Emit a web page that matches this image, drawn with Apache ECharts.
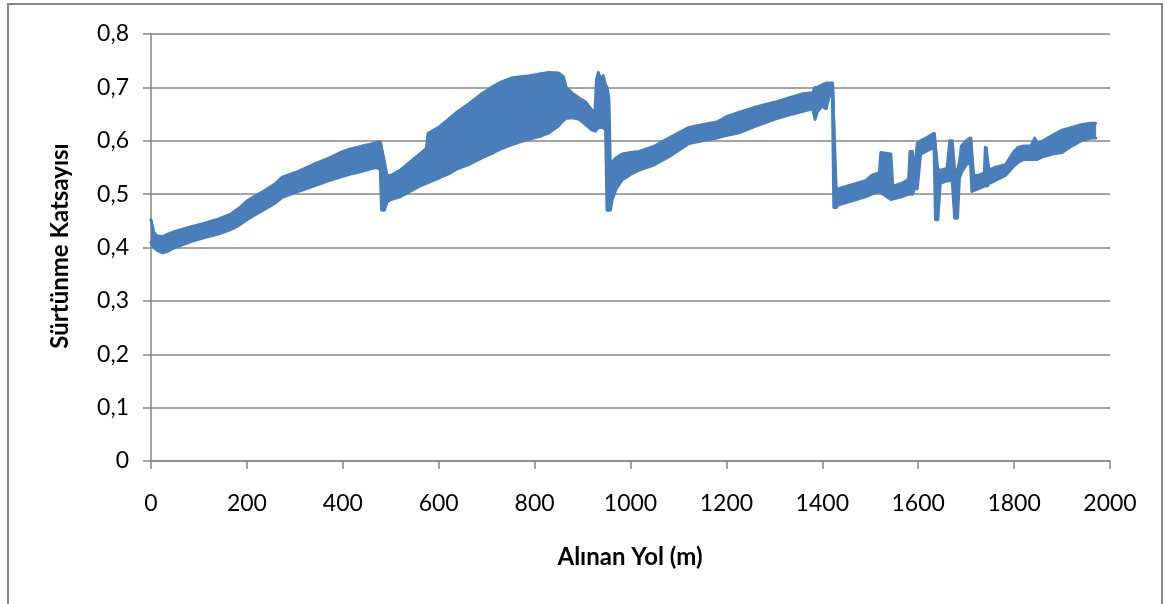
<!DOCTYPE html>
<html>
<head>
<meta charset="utf-8">
<script src="https://cdn.jsdelivr.net/npm/echarts@6/dist/echarts.min.js"></script>
<style>
  html, body { margin: 0; padding: 0; background: #ffffff; }
  #chart { width: 1167px; height: 604px; }
</style>
</head>
<body>
<div id="chart"></div>
<script>
// Friction coefficient recorded along the sliding distance.
// The trace is very noisy, so it is stored as its lower and upper extent.
const dist = [0, 2, 6, 12, 24, 35, 50, 80, 110, 140, 165, 184, 200, 220, 240, 260, 274, 300, 320, 345, 370, 395, 414, 440, 460, 470, 478, 481, 487, 492, 500, 520, 540, 560, 574, 578, 600, 620, 640, 664, 690, 710, 730, 750, 770, 790, 810, 830, 850, 860, 866, 880, 893, 907, 920, 926, 929, 933, 938, 943, 948, 951, 955, 958, 962, 970, 983, 1000, 1018, 1050, 1080, 1122, 1150, 1180, 1200, 1226, 1260, 1300, 1330, 1360, 1380, 1385, 1390, 1400, 1408, 1415, 1421, 1424, 1429, 1434, 1460, 1490, 1503, 1519, 1522, 1543, 1547, 1565, 1580, 1583, 1588, 1592, 1598, 1605, 1620, 1633, 1636, 1641, 1646, 1660, 1666, 1671, 1676, 1682, 1686, 1690, 1700, 1709, 1712, 1716, 1725, 1738, 1740, 1744, 1748, 1760, 1782, 1800, 1809, 1820, 1835, 1843, 1848, 1860, 1880, 1900, 1920, 1940, 1960, 1970];
const lower = [0.41, 0.405, 0.40, 0.395, 0.39, 0.393, 0.40, 0.41, 0.418, 0.425, 0.433, 0.442, 0.452, 0.463, 0.473, 0.484, 0.494, 0.503, 0.509, 0.517, 0.525, 0.532, 0.537, 0.543, 0.548, 0.55, 0.546, 0.47, 0.47, 0.485, 0.49, 0.495, 0.505, 0.515, 0.52, 0.52, 0.53, 0.538, 0.548, 0.556, 0.568, 0.576, 0.585, 0.592, 0.598, 0.603, 0.608, 0.615, 0.628, 0.638, 0.642, 0.643, 0.64, 0.63, 0.62, 0.618, 0.618, 0.625, 0.625, 0.625, 0.62, 0.47, 0.47, 0.47, 0.49, 0.51, 0.527, 0.537, 0.545, 0.555, 0.57, 0.595, 0.60, 0.605, 0.61, 0.615, 0.627, 0.64, 0.648, 0.655, 0.66, 0.64, 0.655, 0.665, 0.66, 0.685, 0.685, 0.475, 0.475, 0.48, 0.487, 0.495, 0.50, 0.505, 0.505, 0.49, 0.49, 0.495, 0.50, 0.50, 0.50, 0.51, 0.51, 0.575, 0.582, 0.588, 0.452, 0.452, 0.52, 0.525, 0.525, 0.525, 0.455, 0.455, 0.53, 0.54, 0.555, 0.56, 0.505, 0.505, 0.51, 0.515, 0.515, 0.515, 0.52, 0.525, 0.535, 0.553, 0.56, 0.565, 0.565, 0.565, 0.565, 0.57, 0.575, 0.578, 0.59, 0.60, 0.605, 0.605];
const upper = [0.452, 0.45, 0.428, 0.422, 0.42, 0.425, 0.43, 0.438, 0.445, 0.453, 0.462, 0.474, 0.487, 0.498, 0.508, 0.52, 0.532, 0.54, 0.548, 0.558, 0.567, 0.578, 0.584, 0.59, 0.594, 0.597, 0.598, 0.597, 0.56, 0.535, 0.535, 0.545, 0.56, 0.575, 0.585, 0.614, 0.625, 0.64, 0.655, 0.67, 0.688, 0.70, 0.71, 0.717, 0.72, 0.722, 0.725, 0.728, 0.727, 0.72, 0.70, 0.688, 0.68, 0.672, 0.657, 0.655, 0.715, 0.728, 0.715, 0.722, 0.705, 0.70, 0.68, 0.55, 0.56, 0.568, 0.575, 0.578, 0.58, 0.59, 0.605, 0.625, 0.63, 0.635, 0.645, 0.653, 0.663, 0.672, 0.68, 0.688, 0.69, 0.70, 0.70, 0.705, 0.708, 0.708, 0.708, 0.705, 0.51, 0.51, 0.517, 0.525, 0.535, 0.54, 0.578, 0.575, 0.515, 0.52, 0.528, 0.58, 0.58, 0.535, 0.595, 0.60, 0.607, 0.614, 0.614, 0.545, 0.545, 0.548, 0.60, 0.60, 0.545, 0.545, 0.56, 0.59, 0.60, 0.605, 0.605, 0.535, 0.535, 0.54, 0.588, 0.588, 0.545, 0.55, 0.555, 0.58, 0.588, 0.59, 0.59, 0.605, 0.595, 0.60, 0.61, 0.62, 0.625, 0.63, 0.633, 0.633];

const xTicks = { min: 0, max: 2000, step: 200 };
const yTicks = { min: 0, max: 0.8, step: 0.1 };

const xTitle = 'Alınan Yol (m)';
const yTitle = 'Sürtünme Katsayısı';

const BLUE = '#4a7ebb';
const AXIS_GRAY = '#868686';
const FONT = 'Lato, "Open Sans", sans-serif';

const lowData = dist.map((d, i) => [d, lower[i]]);
const highData = dist.map((d, i) => [d, upper[i]]);
const bandData = dist.map((d, i) => [d, lower[i], upper[i]]);

// Fills the region between the lower and upper extent as one polygon.
function renderBand(params, api) {
  if (params.dataIndex !== 0) return null;
  const top = dist.map((d, i) => api.coord([d, upper[i]]));
  const bottom = dist.map((d, i) => api.coord([d, lower[i]])).reverse();
  return {
    type: 'polygon',
    shape: { points: top.concat(bottom) },
    style: { fill: BLUE, stroke: BLUE, lineWidth: 1 }
  };
}

const chart = echarts.init(document.getElementById('chart'), null, { renderer: 'canvas' });

const edgeLine = (name, data) => ({
  name,
  type: 'line',
  data,
  symbol: 'none',
  smooth: false,
  lineStyle: { color: BLUE, width: 3, join: 'round', cap: 'round' },
  z: 4
});

chart.setOption({
  animation: false,
  backgroundColor: '#ffffff',
  grid: { left: 151, right: 57, top: 34, bottom: 143, containLabel: false },
  xAxis: {
    type: 'value',
    min: xTicks.min, max: xTicks.max, interval: xTicks.step,
    axisLine: { show: true, onZero: false, lineStyle: { color: AXIS_GRAY, width: 1.5 } },
    axisTick: { show: true, inside: false, length: 8, lineStyle: { color: AXIS_GRAY, width: 1.5 } },
    splitLine: { show: false },
    axisLabel: {
      margin: 31, color: '#000000', fontFamily: FONT, fontSize: 23,
      formatter: v => String(v)
    }
  },
  yAxis: {
    type: 'value',
    min: yTicks.min, max: yTicks.max, interval: yTicks.step,
    axisLine: { show: true, lineStyle: { color: AXIS_GRAY, width: 1.5 } },
    axisTick: { show: true, inside: false, length: 8, lineStyle: { color: AXIS_GRAY, width: 1.5 } },
    splitLine: { show: true, lineStyle: { color: AXIS_GRAY, width: 1.5 } },
    axisLabel: {
      margin: 22, color: '#000000', fontFamily: FONT, fontSize: 23,
      formatter: v => (v === 0 ? '0' : v.toFixed(1).replace('.', ','))
    }
  },
  graphic: [
    {
      type: 'rect', silent: true, z: -1,
      shape: { x: 8, y: 4, width: 1154, height: 640 },
      style: { fill: 'none', stroke: AXIS_GRAY, lineWidth: 2 }
    },
    {
      type: 'text', x: 630, y: 557,
      style: { text: xTitle, fontFamily: FONT, fontWeight: 'bold', fontSize: 24, fill: '#000000', align: 'center', verticalAlign: 'middle' }
    },
    {
      type: 'text', x: 60, y: 246, rotation: Math.PI / 2,
      style: { text: yTitle, fontFamily: FONT, fontWeight: 'bold', fontSize: 24, fill: '#000000', align: 'center', verticalAlign: 'middle' }
    }
  ],
  series: [
    {
      name: 'band',
      type: 'custom',
      renderItem: renderBand,
      data: bandData,
      encode: { x: 0, y: [1, 2] },
      clip: true,
      z: 3
    },
    edgeLine('alt', lowData),
    edgeLine('üst', highData)
  ]
});
</script>
</body>
</html>
